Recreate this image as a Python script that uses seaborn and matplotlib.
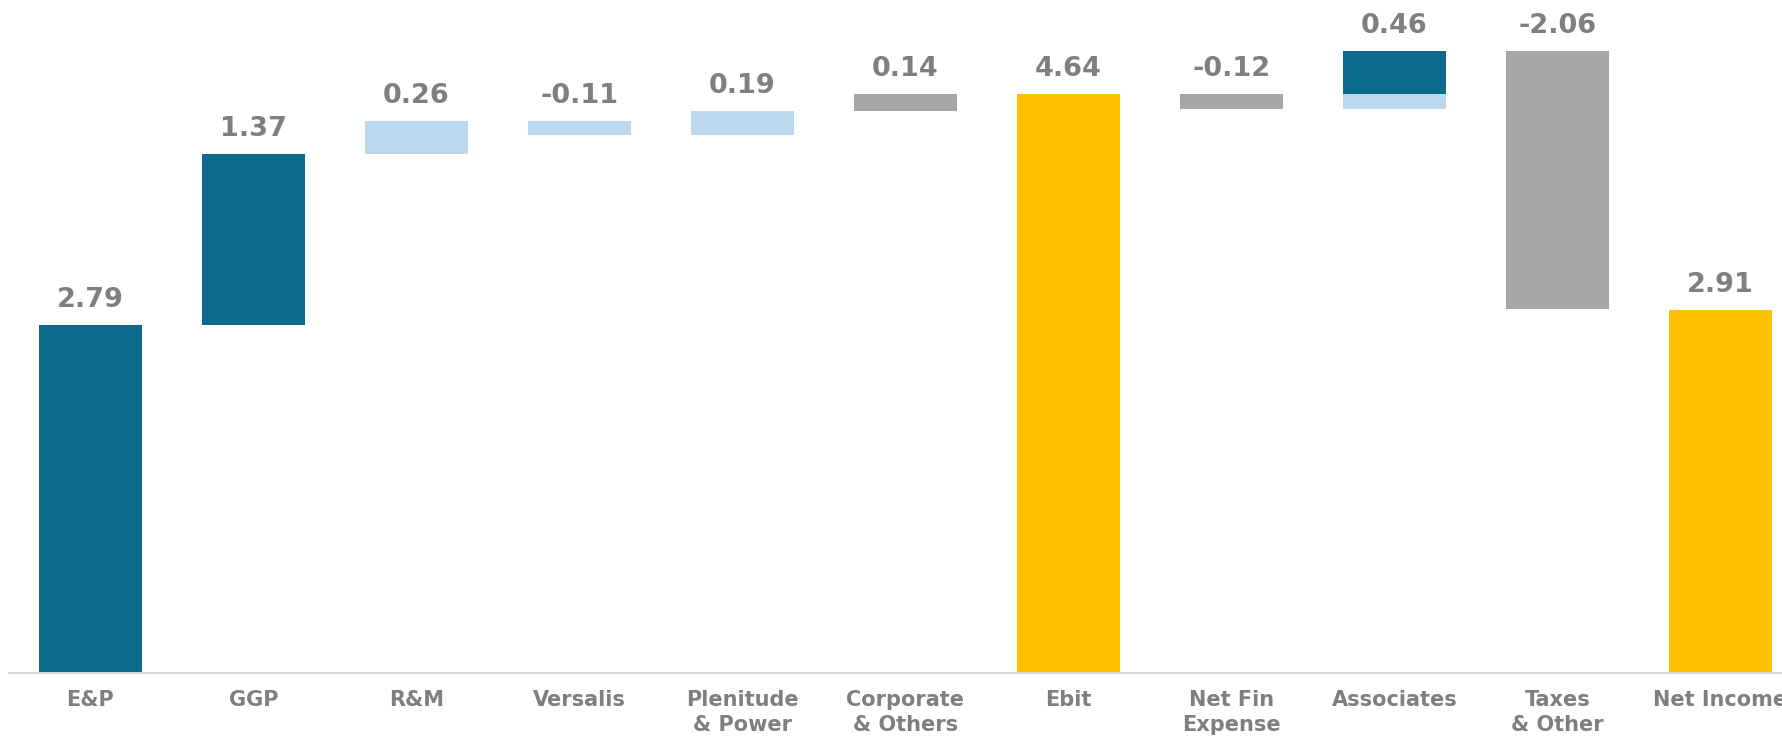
import numpy as np
import pandas as pd
import seaborn as sns
import matplotlib.pyplot as plt

# waterfall data
categories = ["E&P", "GGP", "R&M", "Versalis", "Plenitude\n& Power",
              "Corporate\n& Others", "Ebit", "Net Fin\nExpense", "Associates",
              "Taxes\n& Other", "Net Income"]
values = [2.79, 1.37, 0.26, -0.11, 0.19, 0.14, 4.64, -0.12, 0.46, -2.06, 2.91]
is_total = [False, False, False, False, False, False, True, False, False, False, True]
labels = ["2.79", "1.37", "0.26", "-0.11", "0.19", "0.14", "4.64", "-0.12", "0.46", "-2.06", "2.91"]

DARK = "#0C6A8D"
LIGHT = "#BDD7EE"
GRAY = "#A6A6A6"
GOLD = "#FFC000"
TEXT = "#7F7F7F"
bar_colors = [DARK, DARK, LIGHT, LIGHT, LIGHT, GRAY, GOLD, GRAY, LIGHT, GRAY, GOLD]

# associates: part above the Ebit level drawn dark
split_cat = "Associates"
split_level = values[categories.index("Ebit")]

# running totals -> floating segments
lows, highs = [], []
level = 0.0
for v, tot in zip(values, is_total):
    if tot:
        lows.append(0.0)
        highs.append(v)
        level = v
    else:
        new = level + v
        lows.append(min(level, new))
        highs.append(max(level, new))
        level = new

df = pd.DataFrame({"cat": categories, "low": lows, "high": highs})
df["height"] = df["high"] - df["low"]

sns.set_style("white")
plt.rcParams["font.family"] = ["DejaVu Sans"]

fig = plt.figure(figsize=(17.83, 7.38), dpi=100)
ax = fig.add_axes([9 / 1783, 65 / 738, 1 - 9 / 1783, 1 - 65 / 738])


def float_bars(data, palette):
    # draw bars from 0 and lift each one to its floating base
    n_before = len(ax.patches)
    sns.barplot(data=data, x="cat", y="height", hue="cat", order=categories,
                hue_order=list(data["cat"]), palette=palette, legend=False,
                saturation=1, linewidth=0, width=0.63, errorbar=None, ax=ax)
    for p in ax.patches[n_before:]:
        idx = int(round(p.get_x() + p.get_width() / 2))
        row = data[data["cat"] == categories[idx]].iloc[0]
        p.set_y(row["low"])


float_bars(df, dict(zip(categories, bar_colors)))

# dark overlay on associates
ov = df[df["cat"] == split_cat].copy()
ov["low"] = split_level
ov["height"] = ov["high"] - split_level
float_bars(ov, {split_cat: DARK})

for i, (h, lab) in enumerate(zip(highs, labels)):
    ax.annotate(lab, (i, h), xytext=(0, 13), textcoords="offset points",
                ha="center", va="baseline", fontsize=19.5, fontweight="bold",
                color=TEXT, annotation_clip=False)

ax.set_xlim(-0.5, -0.5 + (1783 - 9) / 163)
ax.set_ylim(0, 673 / 124.8)
ax.set_xlabel("")
ax.set_ylabel("")
ax.set_yticks([])
ax.tick_params(axis="x", length=0, pad=12.5, labelsize=15, labelcolor=TEXT)
for t in ax.get_xticklabels():
    t.set_fontweight("bold")
    t.set_linespacing(1.3)
for s in ["top", "left", "right"]:
    ax.spines[s].set_visible(False)
ax.spines["bottom"].set_color("#D9D9D9")
ax.spines["bottom"].set_linewidth(1.5)

fig.savefig("out.png", dpi=100, facecolor="white")
